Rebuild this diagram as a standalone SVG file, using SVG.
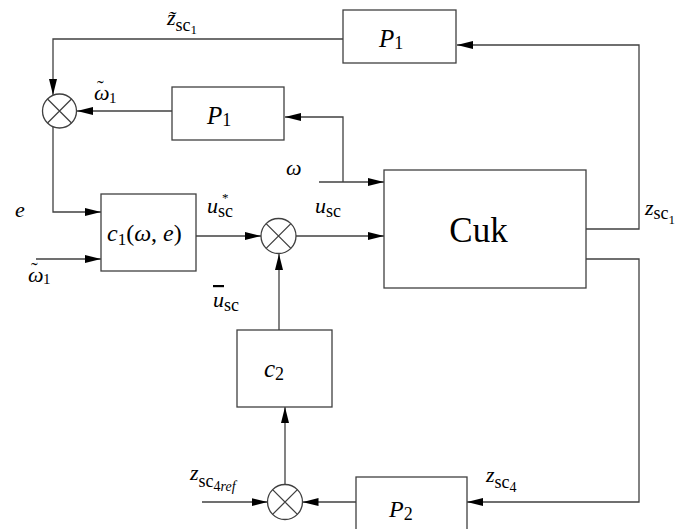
<svg xmlns="http://www.w3.org/2000/svg" width="675" height="529" viewBox="0 0 675 529">
<style>
.box{fill:#fff;stroke:#404040;stroke-width:1.3}
.ln{fill:none;stroke:#404040;stroke-width:1.3}
.arr{fill:none;stroke:#404040;stroke-width:1.3;marker-end:url(#ah)}
text{font-family:'Liberation Serif','Times New Roman',Times,'Noto Serif','DejaVu Serif',serif;fill:#000}
.i{font-style:italic}
</style>
<defs>
<marker id="ah" viewBox="0 0 16 8" refX="16" refY="4" markerWidth="16" markerHeight="8" markerUnits="userSpaceOnUse" orient="auto">
<path d="M0,0 L16,4 L0,8 z" fill="#000"/>
</marker>
</defs>
<rect width="675" height="529" fill="#fff"/>

<g id="connectors">
<path class="arr" d="M343,39 H53 V95"/>
<path class="arr" d="M586,229 H639 V45 H457"/>
<path class="arr" d="M343,182 V117 H285"/>
<path class="arr" d="M319,182 H384"/>
<path class="arr" d="M172,111 H77"/>
<path class="arr" d="M53,127 V212 H101"/>
<path class="arr" d="M36,259 H101"/>
<path class="arr" d="M196,236 H261"/>
<path class="arr" d="M296,236 H384"/>
<path class="arr" d="M279,330 V254"/>
<path class="arr" d="M285,484.5 V407"/>
<path class="arr" d="M202,502 H267.5"/>
<path class="arr" d="M356,502 H302.5"/>
<path class="arr" d="M586,259 H639 V502 H467"/>
</g>

<g id="P1top">
<rect class="box" x="343" y="10" width="113" height="53"/>
<text x="379" y="47" font-size="25"><tspan class="i">P</tspan><tspan font-size="18" dy="2">1</tspan></text>
</g>

<g id="P1mid">
<rect class="box" x="172" y="87" width="112" height="53"/>
<text x="207" y="124" font-size="25"><tspan class="i">P</tspan><tspan font-size="18" dy="2">1</tspan></text>
</g>

<g id="sum1">
<circle class="box" cx="59.5" cy="111" r="17"/>
<path class="ln" d="M47.5,99 L71.5,123 M71.5,99 L47.5,123"/>
</g>

<g id="c1">
<rect class="box" x="101" y="194" width="95" height="77"/>
<text x="107" y="241" font-size="24"><tspan class="i">c</tspan><tspan font-size="17" dy="4">1</tspan><tspan dy="-4">(</tspan><tspan class="i">ω</tspan><tspan>, </tspan><tspan class="i">e</tspan><tspan>)</tspan></text>
</g>

<g id="sum2">
<circle class="box" cx="278.5" cy="236" r="17.5"/>
<path class="ln" d="M266.1,223.6 L290.9,248.4 M290.9,223.6 L266.1,248.4"/>
</g>

<g id="Cuk">
<rect class="box" x="384" y="170" width="202" height="118"/>
<text x="478.5" y="242" font-size="35" text-anchor="middle">Cuk</text>
</g>

<g id="c2">
<rect class="box" x="237" y="330" width="95" height="77"/>
<text x="264" y="377" font-size="25"><tspan class="i">c</tspan><tspan font-size="18" dy="3">2</tspan></text>
</g>

<g id="sum3">
<circle class="box" cx="285" cy="502" r="17.5"/>
<path class="ln" d="M272.6,489.6 L297.4,514.4 M297.4,489.6 L272.6,514.4"/>
</g>

<g id="P2">
<rect class="box" x="356" y="477" width="111" height="60"/>
<text x="389" y="517" font-size="24"><tspan class="i">P</tspan><tspan font-size="18" dy="3">2</tspan></text>
</g>

<g id="labels">
<text x="167" y="25" font-size="22"><tspan class="i">z̃</tspan><tspan font-size="18" dy="6">sc</tspan><tspan font-size="13" dy="3">1</tspan></text>
<text x="94" y="100" font-size="22"><tspan class="i">ω</tspan><tspan x="97" y="95" font-size="20">˜</tspan><tspan x="109" y="103" font-size="15">1</tspan></text>
<text class="i" x="286" y="175" font-size="22">ω</text>
<text class="i" x="15" y="217" font-size="22">e</text>
<text x="28" y="282" font-size="22"><tspan class="i">ω</tspan><tspan x="31" y="277" font-size="20">˜</tspan><tspan x="43" y="284" font-size="15">1</tspan></text>
<text x="207" y="213" font-size="22"><tspan class="i">u</tspan><tspan font-size="18" dy="4">sc</tspan><tspan x="222" y="202" font-size="13">*</tspan></text>
<text x="315" y="213" font-size="22"><tspan class="i">u</tspan><tspan font-size="18" dy="4">sc</tspan></text>
<text x="213" y="307" font-size="22"><tspan class="i" text-decoration="overline">u</tspan><tspan font-size="18" dy="4">sc</tspan></text>
<text x="645" y="215" font-size="22"><tspan class="i">z</tspan><tspan font-size="18" dy="4">sc</tspan><tspan font-size="13" dy="5">1</tspan></text>
<text x="486" y="482" font-size="22"><tspan class="i">z</tspan><tspan font-size="18" dy="6">sc</tspan><tspan font-size="14" dy="4">4</tspan></text>
<text x="190" y="480" font-size="22"><tspan class="i">z</tspan><tspan font-size="18" dy="7">sc</tspan><tspan font-size="14" dy="4">4</tspan><tspan class="i" font-size="14">ref</tspan></text>
</g>
</svg>
